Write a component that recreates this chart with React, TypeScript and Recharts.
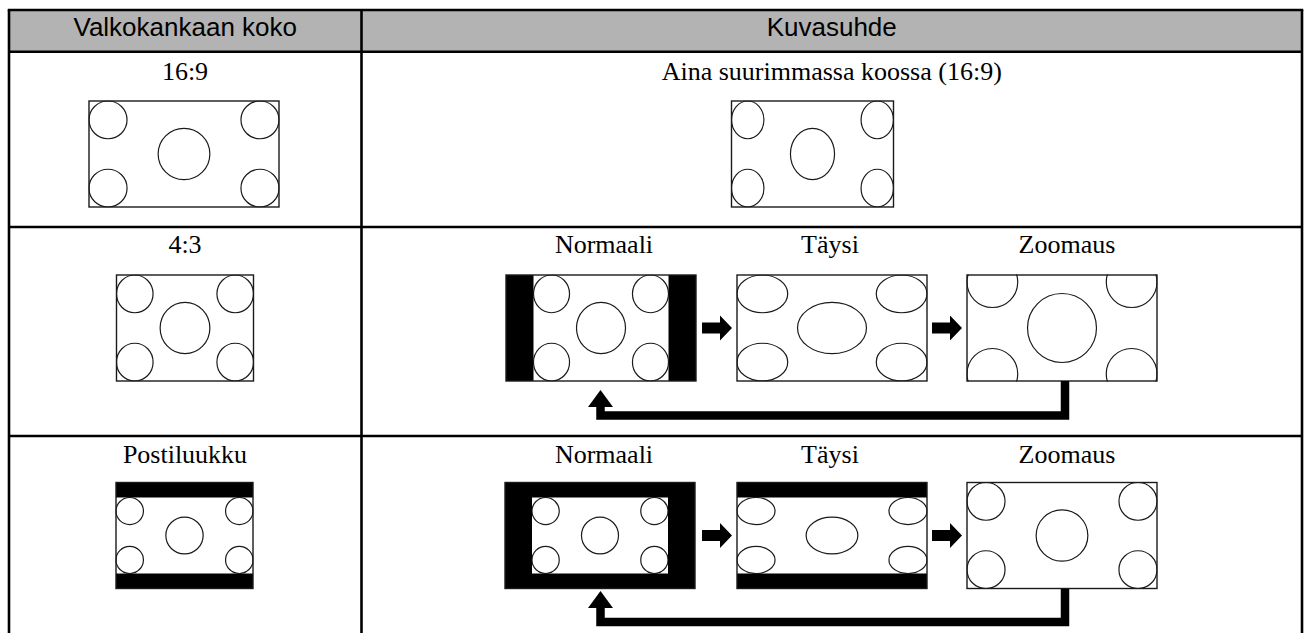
import { ScatterChart, Scatter, XAxis, YAxis } from "recharts";

const W = 1307;
const H = 633;
const X_DOMAIN: [number, number] = [0, W];
const Y_DOMAIN: [number, number] = [0, H];
const KX = W / (X_DOMAIN[1] - X_DOMAIN[0]);
const KY = H / (Y_DOMAIN[1] - Y_DOMAIN[0]);

// table grid (diagram units)
const colX = [9, 361.5, 1302];
const rowY = [10, 51.7, 227, 436];
const tableBottom = 633;

const headers = ["Valkokankaan koko", "Kuvasuhde"];
const screenSizes = ["16:9", "4:3", "Postiluukku"];
const modes = ["Normaali", "Täysi", "Zoomaus"];
const alwaysFull = "Aina suurimmassa koossa (16:9)";

const headerBaseline = 36;
const rowBaselines = [80, 253, 463];
const leftLabelX = 185;
const modeLabelX = [604, 830, 1067];

// one picture per cell: what kind of image, where its centre and top are
const pictures = [
  { kind: "wide", cx: 184, top: 101 },
  { kind: "narrow", cx: 812.5, top: 101 },
  { kind: "std", cx: 185, top: 275 },
  { kind: "pillar", cx: 601, top: 275 },
  { kind: "stretch43", cx: 832, top: 275 },
  { kind: "zoom43", cx: 1062, top: 275 },
  { kind: "letterbox", cx: 184.5, top: 482.5 },
  { kind: "windowbox", cx: 600, top: 482.5 },
  { kind: "stretchLetter", cx: 832, top: 482.5 },
  { kind: "wide", cx: 1062, top: 482.5 },
];

// arrow tips
const rightArrowTips = [
  [732, 328],
  [962, 328],
  [732, 535.5],
  [962, 535.5],
];
const upArrowTips = [
  [600.5, 390],
  [600.5, 591],
];
// Zoomaus -> Normaali return lines
const returnPaths = [
  [[1065, 381], [1065, 415.5], [600.5, 415.5], [600.5, 405]],
  [[1065, 589], [1065, 622], [600.5, 622], [600.5, 606]],
];

// source image circles, in units of image height
const sourceCircles = [
  { u: 0.178, v: 0.178, r: 0.178 },
  { u: -0.178, v: 0.178, r: 0.178 },
  { u: 0.178, v: 0.822, r: 0.178 },
  { u: -0.178, v: 0.822, r: 0.178 },
  { u: 0.5, v: 0.5, r: 0.242, mid: true },
];

const FRAME_H = 106;
const WIDE_W = 190;
const NARROW_W = 162;
const STD_W = 137;

type Box = [number, number, number, number];

function layout(p: { kind: string; cx: number; top: number }) {
  const fw = p.kind === "std" || p.kind === "letterbox" ? STD_W : p.kind === "narrow" ? NARROW_W : WIDE_W;
  const frame: Box = [p.cx - fw / 2, p.top, p.cx + fw / 2, p.top + FRAME_H];
  let view: Box = frame;
  let image: Box = frame;
  let aspect = 16 / 9;
  const midY = p.top + FRAME_H / 2;
  if (p.kind === "std" || p.kind === "stretch43") aspect = 4 / 3;
  if (p.kind === "pillar") {
    view = [p.cx - 67.5, p.top, p.cx + 67.5, p.top + FRAME_H];
    image = view;
    aspect = 4 / 3;
  }
  if (p.kind === "zoom43") {
    aspect = 4 / 3;
    const ih = fw / aspect;
    image = [frame[0], midY - ih / 2, frame[2], midY + ih / 2];
  }
  if (p.kind === "letterbox" || p.kind === "stretchLetter") {
    view = [frame[0], midY - 38, frame[2], midY + 38];
    image = view;
  }
  if (p.kind === "windowbox") {
    view = [p.cx - 68, midY - 38, p.cx + 68, midY + 38];
    image = view;
  }
  return { frame, view, image, aspect };
}

const laid = pictures.map(layout);

const toRect = (b: Box) => ({ x: b[0], y: b[1], x2: b[2], y2: b[3] });
const sameBox = (a: Box, b: Box) => a.every((v, i) => v === b[i]);

const headerFill = [toRect([colX[0], rowY[0], colX[2], rowY[1]])];
const blackBacks = laid.filter((l) => !sameBox(l.frame, l.view)).map((l) => toRect(l.frame));
const whiteViews = laid.map((l) => toRect(l.view));
const frameOutlines = laid.map((l) => toRect(l.frame));

const ellipses = laid.flatMap((l, pi) => {
  const [ix1, iy1, ix2, iy2] = l.image;
  const ih = iy2 - iy1;
  const unitX = (ix2 - ix1) / l.aspect;
  return sourceCircles.map((c, ci) => {
    const u = c.mid ? l.aspect / 2 : c.u < 0 ? l.aspect + c.u : c.u;
    return {
      x: ix1 + u * unitX,
      y: iy1 + c.v * ih,
      rx: c.r * unitX,
      ry: c.r * ih,
      clip: l.view,
      id: `clip-${pi}-${ci}`,
    };
  });
});

const tableLines = [
  { x: colX[0] - 1.25, y: rowY[0], x2: colX[2] + 1.25, y2: rowY[0] },
  ...rowY.slice(1).map((y) => ({ x: colX[0], y, x2: colX[2], y2: y })),
  ...colX.map((x) => ({ x, y: rowY[0], x2: x, y2: tableBottom })),
];

const headerTexts = headers.map((t, i) => ({
  x: (colX[i] + colX[i + 1]) / 2,
  y: headerBaseline,
  text: t,
}));

const cellTexts = [
  ...screenSizes.map((t, i) => ({ x: leftLabelX, y: rowBaselines[i], text: t })),
  { x: (colX[1] + colX[2]) / 2, y: rowBaselines[0], text: alwaysFull },
  ...[1, 2].flatMap((r) => modes.map((m, i) => ({ x: modeLabelX[i], y: rowBaselines[r], text: m }))),
];

const rightArrows = rightArrowTips.map(([x, y]) => ({ x, y, pts: [[-30, -5.5], [-12, -5.5], [-12, -12.5], [0, 0], [-12, 12.5], [-12, 5.5], [-30, 5.5]] }));
const upHeads = upArrowTips.map(([x, y]) => ({ x, y, pts: [[0, 0], [12.5, 17], [-12.5, 17]] }));
const paths = returnPaths.map((pts) => ({ x: pts[0][0], y: pts[0][1], pts }));

// ---- shapes ----
const RectShape = (fill: string, stroke = "none", sw = 0) => (p: any) => {
  const d = p.payload;
  return (
    <rect
      x={p.cx}
      y={p.cy}
      width={(d.x2 - d.x) * KX}
      height={(d.y2 - d.y) * KY}
      fill={fill}
      stroke={stroke}
      strokeWidth={sw}
    />
  );
};

const LineShape = (p: any) => {
  const d = p.payload;
  return (
    <line
      x1={p.cx}
      y1={p.cy}
      x2={p.cx + (d.x2 - d.x) * KX}
      y2={p.cy + (d.y2 - d.y) * KY}
      stroke="#000"
      strokeWidth={2.6}
    />
  );
};

const EllipseShape = (p: any) => {
  const d = p.payload;
  const [c1, c2, c3, c4] = d.clip;
  return (
    <g>
      <clipPath id={d.id}>
        <rect
          x={p.cx + (c1 - d.x) * KX - 0.6}
          y={p.cy + (c2 - d.y) * KY - 0.6}
          width={(c3 - c1) * KX + 1.2}
          height={(c4 - c2) * KY + 1.2}
        />
      </clipPath>
      <ellipse
        cx={p.cx}
        cy={p.cy}
        rx={d.rx * KX}
        ry={d.ry * KY}
        fill="none"
        stroke="#1a1a1a"
        strokeWidth={1.2}
        clipPath={`url(#${d.id})`}
      />
    </g>
  );
};

const PolygonShape = (p: any) => {
  const d = p.payload;
  const pts = d.pts.map(([dx, dy]: number[]) => `${p.cx + dx * KX},${p.cy + dy * KY}`).join(" ");
  return <polygon points={pts} fill="#000" />;
};

const PathShape = (p: any) => {
  const d = p.payload;
  const pts = d.pts.map(([x, y]: number[]) => `${p.cx + (x - d.x) * KX},${p.cy + (y - d.y) * KY}`).join(" ");
  return <polyline points={pts} fill="none" stroke="#000" strokeWidth={8.5} strokeLinejoin="miter" />;
};

const TextShape = (family: string, size: number) => (p: any) => (
  <text x={p.cx} y={p.cy} textAnchor="middle" fontFamily={family} fontSize={size} fill="#000">
    {p.payload.text}
  </text>
);

const SANS = "'Liberation Sans', Arial, Helvetica, sans-serif";
const SERIF = "'Liberation Serif', 'Times New Roman', Times, serif";

export default function App() {
  return (
    <div style={{ position: "absolute", left: 0, top: 0, width: W, height: H, background: "#fff" }}>
      <ScatterChart width={W} height={H} margin={{ top: 0, right: 0, bottom: 0, left: 0 }}>
        <XAxis type="number" dataKey="x" domain={X_DOMAIN} hide allowDataOverflow />
        <YAxis type="number" dataKey="y" domain={Y_DOMAIN} reversed hide allowDataOverflow />
        <Scatter data={headerFill} shape={RectShape("#b3b3b3")} isAnimationActive={false} />
        <Scatter data={blackBacks} shape={RectShape("#000")} isAnimationActive={false} />
        <Scatter data={whiteViews} shape={RectShape("#fff")} isAnimationActive={false} />
        <Scatter data={ellipses} shape={EllipseShape} isAnimationActive={false} />
        <Scatter data={frameOutlines} shape={RectShape("none", "#1a1a1a", 1.4)} isAnimationActive={false} />
        <Scatter data={paths} shape={PathShape} isAnimationActive={false} />
        <Scatter data={rightArrows} shape={PolygonShape} isAnimationActive={false} />
        <Scatter data={upHeads} shape={PolygonShape} isAnimationActive={false} />
        <Scatter data={tableLines} shape={LineShape} isAnimationActive={false} />
        <Scatter data={headerTexts} shape={TextShape(SANS, 26)} isAnimationActive={false} />
        <Scatter data={cellTexts} shape={TextShape(SERIF, 26)} isAnimationActive={false} />
      </ScatterChart>
    </div>
  );
}
